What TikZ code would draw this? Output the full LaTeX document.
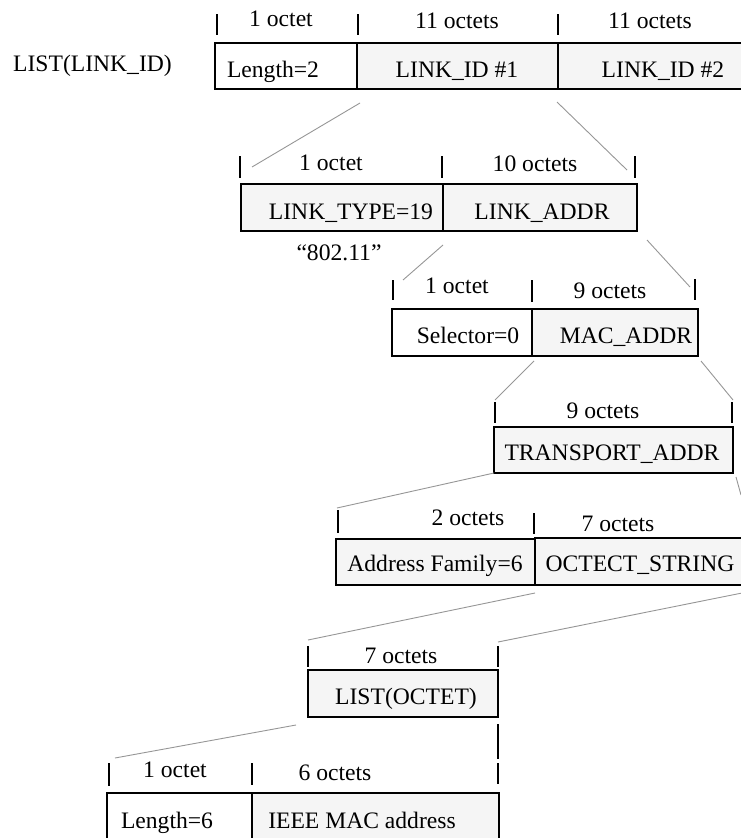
\documentclass[tikz,border=0pt]{standalone}
\usepackage{fontspec}
\setmainfont{Liberation Serif}
\definecolor{cellfill}{RGB}{245,245,245}
\definecolor{zoomgray}{RGB}{150,150,150}
\begin{document}
\begin{tikzpicture}[x=1pt,y=-1pt,
  every node/.style={font=\fontsize{23.6}{27}\selectfont, inner sep=0pt},
  cellg/.style={draw=black, line width=1.4pt, fill=cellfill, inner sep=0pt},
  cellw/.style={cellg, fill=white},
  txt/.style={anchor=base, inner sep=0pt},
  tickmark/.style={draw=black, line width=1.2pt},
  zoomline/.style={draw=zoomgray, line width=0.9pt}]
\path[use as bounding box] (0,0) rectangle (740,838);

% ---------- row 1 : LIST(LINK_ID)
\node[txt, anchor=base west] (listlid) at (13,71) {LIST(LINK\_ID)};
\node[cellw, minimum width=142pt, minimum height=46pt] (len2) at (286,66) {};
\node[cellg, minimum width=201pt, minimum height=46pt] (lid1) at (457.5,66) {};
\node[cellg, minimum width=212pt, minimum height=46pt] (lid2) at (664,66) {};
\node[txt] (tlen2) at (273,77) {Length=2};
\node[txt] (tlid1) at (457,77) {LINK\_ID \#1};
\node[txt] (tlid2) at (663,77) {LINK\_ID \#2};
\draw[tickmark] (217,14) -- (217,35);
\draw[tickmark] (358,14) -- (358,35);
\draw[tickmark] (558,14) -- (558,35);
\node[txt] (o1a) at (281,26) {1 octet};
\node[txt] (o1b) at (457,28) {11 octets};
\node[txt] (o1c) at (650,28) {11 octets};

% ---------- row 2 : LINK_ID
\coordinate (z1a) at (360,103); \coordinate (z1b) at (252,167);
\coordinate (z2a) at (557,102); \coordinate (z2b) at (627,170);
\draw[zoomline] (z1a) -- (z1b);
\draw[zoomline] (z2a) -- (z2b);
\node[cellg, minimum width=202pt, minimum height=47pt] (ltype) at (342,207.5) {};
\node[cellg, minimum width=194pt, minimum height=47pt] (laddr) at (540,207.5) {};
\node[txt] (tltype) at (351,219) {LINK\_TYPE=19};
\node[txt] (tladdr) at (542,219) {LINK\_ADDR};
\node[txt] (t80211) at (339,260) {“802.11”};
\draw[tickmark] (240,156) -- (240,178);
\draw[tickmark] (442,156) -- (442,178);
\draw[tickmark] (635,156) -- (635,178);
\node[txt] (o2a) at (331,170) {1 octet};
\node[txt] (o2b) at (535,171) {10 octets};

% ---------- row 3 : LINK_ADDR
\coordinate (z3a) at (443,245); \coordinate (z3b) at (403,280);
\coordinate (z4a) at (647,240); \coordinate (z4b) at (690,287);
\draw[zoomline] (z3a) -- (z3b);
\draw[zoomline] (z4a) -- (z4b);
\node[cellw, minimum width=140pt, minimum height=47pt] (sel) at (462,332.5) {};
\node[cellg, minimum width=166pt, minimum height=47pt] (mac) at (615,332.5) {};
\node[txt] (tsel) at (468,343) {Selector=0};
\node[txt] (tmac) at (626,343) {MAC\_ADDR};
\draw[tickmark] (393,280) -- (393,300);
\draw[tickmark] (532,280) -- (532,302);
\draw[tickmark] (695,279) -- (695,300);
\node[txt] (o3a) at (457,293) {1 octet};
\node[txt] (o3b) at (610,298) {9 octets};

% ---------- row 4 : MAC_ADDR
\coordinate (z5a) at (534,361); \coordinate (z5b) at (495,400);
\coordinate (z6a) at (701,361); \coordinate (z6b) at (733,400);
\draw[zoomline] (z5a) -- (z5b);
\draw[zoomline] (z6a) -- (z6b);
\node[cellg, minimum width=239pt, minimum height=46pt] (taddr) at (613.5,450) {};
\node[txt] (ttaddr) at (612,460) {TRANSPORT\_ADDR};
\draw[tickmark] (495,402) -- (495,423);
\draw[tickmark] (732,402) -- (732,423);
\node[txt] (o4a) at (603,418) {9 octets};

% ---------- row 5 : TRANSPORT_ADDR
\coordinate (z7a) at (494,473); \coordinate (z7b) at (337,508);
\coordinate (z8a) at (736,477); \coordinate (z8b) at (741,495);
\draw[zoomline] (z7a) -- (z7b);
\draw[zoomline] (z8a) -- (z8b);
\node[cellg, minimum width=199pt, minimum height=46pt] (af) at (435.5,562) {};
\node[cellg, minimum width=225pt, minimum height=47pt] (ostr) at (647.5,561.5) {};
\node[txt] (taf) at (435,571) {Address Family=6};
\node[txt] (tostr) at (640,571) {OCTECT\_STRING};
\draw[tickmark] (338,510) -- (338,533);
\draw[tickmark] (534,513) -- (534,534);
\node[txt] (o5a) at (468,525) {2 octets};
\node[txt] (o5b) at (618,531) {7 octets};

% ---------- row 6 : OCTECT_STRING
\coordinate (z9a) at (535,593); \coordinate (z9b) at (308,640);
\coordinate (z10a) at (742,593); \coordinate (z10b) at (498,642);
\draw[zoomline] (z9a) -- (z9b);
\draw[zoomline] (z10a) -- (z10b);
\node[cellg, minimum width=190pt, minimum height=47pt] (lo) at (403,693.5) {};
\node[txt] (tlo) at (406,704) {LIST(OCTET)};
\draw[tickmark] (308,646) -- (308,667);
\draw[tickmark] (498,646) -- (498,667);
\node[txt] (o6a) at (401,663) {7 octets};

% ---------- row 7 : LIST(OCTET)
\coordinate (z11a) at (296,725); \coordinate (z11b) at (115,758);
\coordinate (z12a) at (498,724); \coordinate (z12b) at (498,759);
\draw[zoomline] (z11a) -- (z11b);
\draw[tickmark] (z12a) -- (z12b);
\node[cellw, minimum width=145pt, minimum height=58pt] (len6) at (179.5,822) {};
\node[cellg, minimum width=247pt, minimum height=58pt] (ieee) at (375.5,822) {};
\node[txt] (tlen6) at (167,828) {Length=6};
\node[txt] (tieee) at (362,828) {IEEE MAC address};
\draw[tickmark] (109,763) -- (109,786);
\draw[tickmark] (252,763) -- (252,785);
\draw[tickmark] (498,763) -- (498,784);
\node[txt] (o7a) at (175,777) {1 octet};
\node[txt] (o7b) at (335,780) {6 octets};
\end{tikzpicture}
\end{document}
